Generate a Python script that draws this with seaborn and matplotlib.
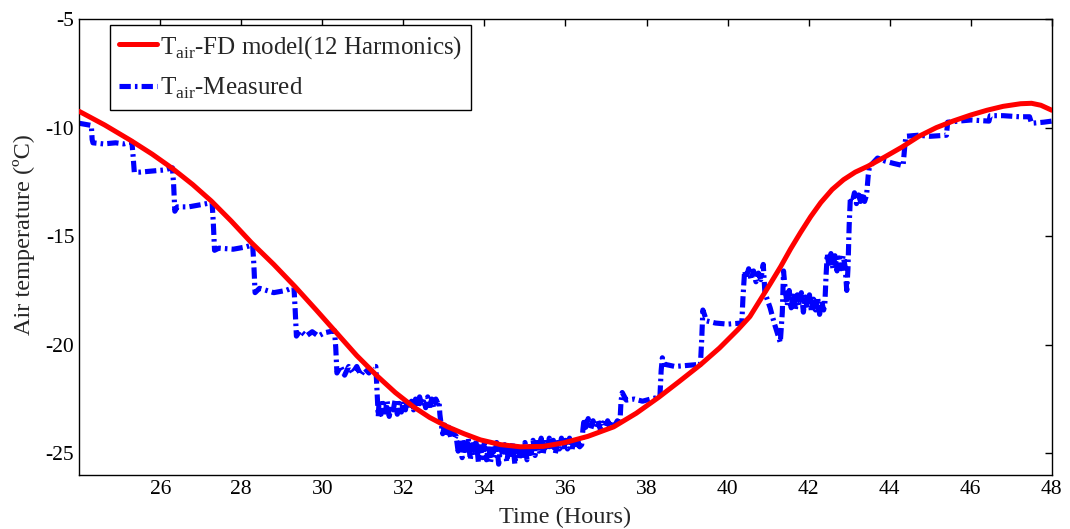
import numpy as np
import pandas as pd
import matplotlib
matplotlib.use("Agg")
import matplotlib.pyplot as plt
import seaborn as sns

# ---- data ----
fd_time = [24.0, 24.63, 25.28, 25.8, 26.3, 26.8, 27.26, 27.75, 28.25, 28.8, 29.33, 29.85,
           30.35, 30.85, 31.36, 31.8, 32.25, 32.65, 33.09, 33.5, 33.90, 34.4, 34.89, 35.45,
           35.95, 36.55, 37.19, 37.75, 38.30, 38.8, 39.33, 39.8, 40.25, 40.55, 40.81, 41.05,
           41.31, 41.55, 41.80, 42.05, 42.30, 42.58, 42.86, 43.15, 43.46, 43.88, 44.3, 44.72,
           45.15, 45.56, 46.0, 46.4, 46.8, 47.23, 47.5, 47.73, 48.0]
fd_temp = [-9.25, -9.88, -10.6, -11.22, -11.88, -12.62, -13.38, -14.3, -15.3, -16.3, -17.33, -18.4,
           -19.45, -20.5, -21.45, -22.2, -22.86, -23.35, -23.78, -24.1, -24.38, -24.6, -24.70, -24.68,
           -24.52, -24.22, -23.78, -23.15, -22.42, -21.7, -20.92, -20.15, -19.31, -18.7, -17.92, -17.2,
           -16.40, -15.6, -14.83, -14.1, -13.45, -12.85, -12.40, -12.05, -11.78, -11.35, -10.9, -10.4,
           -10.0, -9.7, -9.42, -9.2, -9.02, -8.9, -8.88, -8.97, -9.2]

# measured series as (hour, temperature) pairs
meas_points = [
    (24.00, -9.80), (24.15, -9.85), (24.30, -9.90), (24.32, -10.55), (24.34, -10.70),
    (24.60, -10.75), (24.90, -10.70), (25.10, -10.75), (25.30, -10.65), (25.33, -11.30),
    (25.36, -12.05), (25.50, -12.05), (25.80, -12.00), (26.10, -11.95), (26.30, -11.85),
    (26.33, -12.60), (26.36, -13.85), (26.42, -13.65), (26.70, -13.65), (27.00, -13.55),
    (27.28, -13.45), (27.31, -14.40), (27.34, -15.65), (27.45, -15.55), (27.80, -15.60),
    (28.10, -15.50), (28.28, -15.40), (28.31, -16.30), (28.34, -17.60), (28.45, -17.40),
    (28.80, -17.60), (29.10, -17.50), (29.30, -17.35), (29.33, -18.40), (29.36, -19.60),
    (29.45, -19.35), (29.60, -19.60), (29.75, -19.40), (29.90, -19.60), (30.05, -19.45),
    (30.30, -19.35), (30.33, -20.10), (30.36, -21.30),
    (30.45, -21.00), (30.55, -21.40), (30.65, -21.00), (30.75, -21.30), (30.85, -21.00),
    (30.95, -21.40), (31.05, -21.10), (31.15, -21.30), (31.25, -21.00),
    (31.32, -21.00), (31.35, -22.20), (31.38, -23.30),
    (31.40, -22.60), (31.45, -23.20), (31.50, -22.70), (31.55, -23.10), (31.60, -22.60),
    (31.65, -23.30), (31.70, -22.80), (31.75, -23.00), (31.80, -22.50), (31.85, -23.20),
    (31.90, -22.70), (31.95, -23.10), (32.00, -22.60), (32.05, -23.00), (32.10, -22.50),
    (32.15, -22.90), (32.20, -22.60), (32.25, -23.00), (32.30, -22.50), (32.35, -22.90),
    (32.40, -22.40), (32.45, -22.80), (32.50, -22.50), (32.55, -22.90), (32.60, -22.40),
    (32.65, -22.80), (32.70, -22.50), (32.75, -22.90), (32.80, -22.50), (32.85, -22.70),
    (32.88, -22.60), (32.90, -23.20),
    (32.92, -23.50), (32.97, -24.10), (33.02, -23.70), (33.07, -24.20), (33.12, -23.80),
    (33.17, -24.30), (33.22, -23.90), (33.27, -24.30),
    (33.30, -24.20), (33.35, -24.90), (33.40, -24.40), (33.45, -25.20), (33.50, -24.50),
    (33.55, -25.00), (33.60, -24.30), (33.65, -25.30), (33.70, -24.60), (33.75, -25.10),
    (33.80, -24.40), (33.85, -25.40), (33.90, -24.70), (33.95, -25.20), (34.00, -24.50),
    (34.05, -25.30), (34.10, -24.60), (34.15, -25.40), (34.20, -24.80), (34.25, -25.20),
    (34.30, -24.50), (34.35, -25.50), (34.40, -24.70), (34.45, -25.10), (34.50, -24.60),
    (34.55, -25.40), (34.60, -24.80), (34.65, -25.20), (34.70, -24.50), (34.75, -25.50),
    (34.80, -24.70), (34.85, -25.30), (34.90, -24.60), (34.95, -25.10), (35.00, -24.50),
    (35.05, -25.30), (35.10, -24.70), (35.15, -25.00), (35.20, -24.40), (35.25, -25.10),
    (35.30, -24.50), (35.35, -24.90), (35.40, -24.30), (35.45, -25.00), (35.50, -24.50),
    (35.55, -24.90), (35.60, -24.30), (35.65, -24.80), (35.70, -24.40), (35.75, -25.00),
    (35.80, -24.50), (35.85, -24.80), (35.90, -24.30), (35.95, -24.90), (36.00, -24.40),
    (36.05, -24.80), (36.10, -24.30), (36.15, -24.90), (36.20, -24.50), (36.25, -24.80),
    (36.30, -24.40), (36.35, -24.70),
    (36.40, -24.60), (36.43, -23.90), (36.46, -23.40),
    (36.50, -23.80), (36.56, -23.40), (36.62, -23.90), (36.68, -23.50), (36.74, -23.80),
    (36.80, -23.50), (36.86, -23.90), (36.92, -23.60), (36.98, -23.80), (37.04, -23.50),
    (37.10, -23.80), (37.16, -23.50), (37.22, -23.70), (37.28, -23.50), (37.34, -23.70),
    (37.37, -22.60), (37.40, -22.20), (37.50, -22.55), (37.70, -22.50), (37.90, -22.60),
    (38.10, -22.50), (38.33, -22.40), (38.36, -21.20), (38.39, -20.60), (38.45, -20.90),
    (38.70, -21.00), (39.00, -20.95), (39.33, -20.90), (39.36, -19.80), (39.39, -18.40),
    (39.48, -18.90), (39.70, -19.00), (40.00, -19.05), (40.35, -19.00), (40.38, -17.80),
    (40.42, -16.60),
    (40.46, -16.90), (40.52, -16.50), (40.58, -17.00), (40.64, -16.60), (40.70, -17.10),
    (40.76, -16.70), (40.82, -17.00), (40.88, -16.30),
    (40.92, -17.60), (41.05, -18.30), (41.15, -19.00), (41.25, -19.60), (41.30, -19.90),
    (41.35, -18.50), (41.38, -16.60),
    (41.42, -17.40), (41.47, -18.20), (41.52, -17.50), (41.57, -18.30), (41.62, -17.60),
    (41.67, -18.40), (41.72, -17.70), (41.77, -18.20), (41.82, -17.60), (41.87, -18.50),
    (41.92, -17.80), (41.97, -18.30), (42.02, -17.70), (42.07, -18.50), (42.12, -17.90),
    (42.17, -18.40), (42.22, -17.80), (42.27, -18.60), (42.32, -18.00), (42.37, -18.40),
    (42.40, -18.10), (42.43, -16.80), (42.46, -15.80),
    (42.50, -16.40), (42.55, -15.80), (42.60, -16.50), (42.65, -15.90), (42.70, -16.60),
    (42.75, -16.00), (42.80, -16.50), (42.85, -15.90), (42.90, -16.40),
    (42.94, -17.50), (42.97, -16.50), (43.00, -14.50), (43.03, -13.20),
    (43.08, -13.40), (43.13, -13.00), (43.18, -13.50), (43.23, -13.10), (43.28, -13.40),
    (43.33, -13.00), (43.38, -13.40), (43.43, -13.10),
    (43.47, -12.20), (43.50, -11.80), (43.70, -11.40), (43.90, -11.55), (44.10, -11.65),
    (44.33, -11.75), (44.37, -10.90), (44.40, -10.40), (44.70, -10.35), (45.00, -10.40),
    (45.40, -10.35), (45.43, -9.75), (45.70, -9.70), (46.00, -9.65), (46.45, -9.70),
    (46.48, -9.45), (46.80, -9.45), (47.20, -9.50), (47.45, -9.50), (47.50, -9.80),
    (47.80, -9.75), (48.00, -9.70),
]
meas_time = [p[0] for p in meas_points]
meas_temp = [p[1] for p in meas_points]

x_ticks = [26, 28, 30, 32, 34, 36, 38, 40, 42, 44, 46, 48]
y_ticks = [-25, -20, -15, -10, -5]
labels = [r"T$_{\mathrm{air}}$-FD model(12 Harmonics)", r"T$_{\mathrm{air}}$-Measured"]

# ---- style ----
sns.set_style("white")
plt.rcParams["font.family"] = ["Liberation Serif", "DejaVu Serif"]
plt.rcParams["mathtext.fontset"] = "custom"
plt.rcParams["mathtext.rm"] = "Liberation Serif"
plt.rcParams["axes.unicode_minus"] = False

fig = plt.figure(figsize=(10.7, 5.29), dpi=100)
ax = fig.add_axes([0.074, 0.102, 0.909, 0.862])

df_fd = pd.DataFrame({"t": fd_time, "T": fd_temp})
df_me = pd.DataFrame({"t": meas_time, "T": meas_temp})

sns.lineplot(data=df_fd, x="t", y="T", ax=ax, color="#ff0000", linewidth=3.6,
             sort=False, estimator=None, zorder=3)
sns.lineplot(data=df_me, x="t", y="T", ax=ax, color="#0000ff", linewidth=3.7,
             sort=False, estimator=None, zorder=2)
line_fd, line_me = ax.lines[0], ax.lines[1]
line_me.set_linestyle((0, (2.2, 0.8, 0.5, 0.8)))

ax.set_xlim(24, 48)
ax.set_ylim(-26, -5)
ax.set_xticks(x_ticks)
ax.set_yticks(y_ticks)
ax.tick_params(direction="in", top=True, right=True, length=5, width=1,
               labelsize=15.5, colors="black")
for s in ax.spines.values():
    s.set_color("black")
    s.set_linewidth(1.0)

ax.set_xlabel("Time (Hours)", fontsize=17.5, labelpad=6)
ax.set_ylabel("Air temperature (ºC)", fontsize=17.5)
ax.yaxis.set_label_coords(-0.045, 0.528)

leg = ax.legend([line_fd, line_me], labels, loc="upper left",
                bbox_to_anchor=(0.032, 0.987), borderaxespad=0, fontsize=18,
                handlelength=1.5, handletextpad=0.15, borderpad=0.35,
                labelspacing=0.6, fancybox=False, framealpha=1, edgecolor="black")
leg.get_frame().set_linewidth(1.0)
leg.set_zorder(5)

fig.savefig("out.png", dpi=100)
